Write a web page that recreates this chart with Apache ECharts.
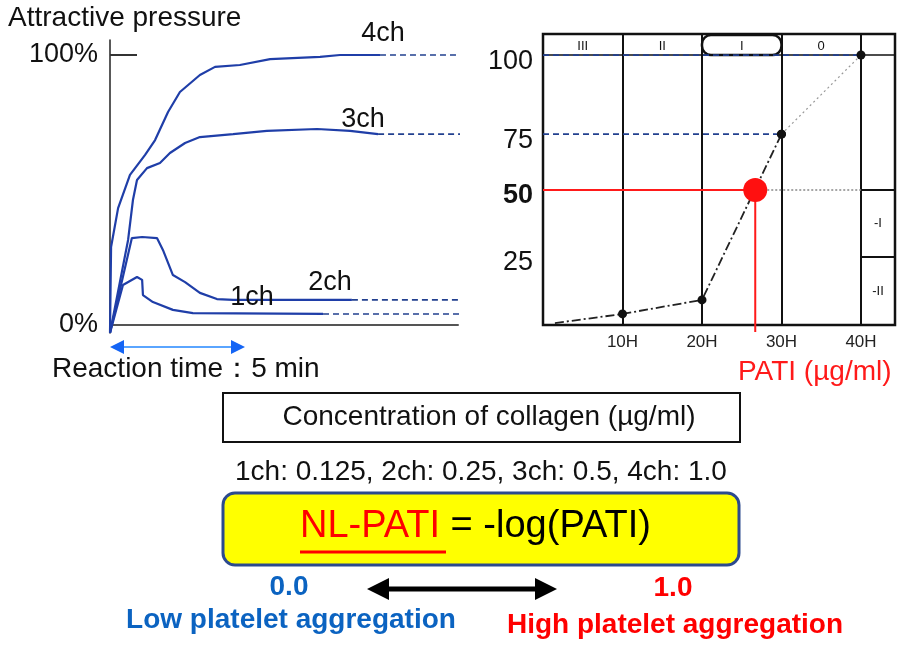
<!DOCTYPE html>
<html><head><meta charset="utf-8">
<script src="https://cdn.jsdelivr.net/npm/echarts@6/dist/echarts.min.js"></script>
<style>html,body{margin:0;padding:0;background:#fff}#c{width:902px;height:647px}</style>
</head><body><div id="c"></div>
<script>
// ---------- data ----------
const curveNames = ['1ch', '2ch', '3ch', '4ch'];
// [time (min), attractive pressure (%)]
const ch1Curve = [[0,-2.9],[0.48,14.8],[1.0,17.8],[1.19,16.7],[1.22,11.1],[1.59,8.5],[2.33,5.6],[3.07,4.4],[7.89,4.1]];
const ch2Curve = [[0,-2.9],[0.81,32.2],[1.19,32.6],[1.74,32.2],[1.96,27.8],[2.33,18.5],[2.78,15.9],[3.33,11.9],[3.96,9.6],[4.56,9.3],[8.96,9.3]];
const ch3Curve = [[0,-2.9],[0.67,31.5],[0.85,46.3],[1.0,53.7],[1.37,58.1],[1.85,60.0],[2.22,63.7],[2.78,67.4],[3.33,69.6],[4.56,70.7],[5.81,71.9],[7.67,72.6],[8.89,71.9],[9.93,70.7]];
const ch4Curve = [[0,-2.9],[0.04,28.9],[0.3,43.3],[0.74,55.6],[1.3,63.0],[1.67,68.5],[2.15,78.9],[2.59,86.3],[3.33,92.6],[3.89,95.6],[4.81,96.3],[5.93,98.5],[7.78,99.3],[8.52,100],[10.0,100]];
const levelLineEnds = [18.6, 21.2, 13.41, 12.96];   // where each dashed level line stops (min scale)
const leftTickValues = [0, 100];
const reactionMinutes = 5;

const rightHours = [1.5, 10, 20, 30, 40];
const rightPct = [0.7, 4.1, 9.3, 70.7, 100];
const rightTickValues = [100, 70.7, 50, 25.2];
const rightTickLabels = ['100', '75', '50', '25'];
const headerEdges = [0, 10, 20, 30, 40];
const headerLabels = ['III', 'II', 'I', '0'];
const highlightCell = [20, 30];
const sideEdges = [50, 25.2, 0];
const sideLabels = ['-I', '-II'];
const patiPoint = [26.7, 50];

const concentrations = ['1ch: 0.125', '2ch: 0.25', '3ch: 0.5', '4ch: 1.0'];

// ---------- layout constants ----------
const FF = '"Liberation Sans", Arial, Helvetica, sans-serif';
const leftXMax = 12.89, leftYMin = -2.96, leftYMax = 105.56;
const rightXMax = 44.28, rightYMax = 107.8;
const curveColor = '#1f3ea8', dashColor = '#22408f';
const curves = [ch1Curve, ch2Curve, ch3Curve, ch4Curve];
const labelOffsets = [[-71, -16], [-22, -17], [-15, -15], [3, -21]];

const chart = echarts.init(document.getElementById('c'), null, {renderer: 'canvas'});
const series = [];

curves.forEach((c, i) => {
  series.push({type: 'line', xAxisIndex: 0, yAxisIndex: 0, data: c, showSymbol: false, symbol: 'none',
    lineStyle: {color: curveColor, width: 2.2}, z: 3, animation: false, clip: false});
  const last = c[c.length - 1];
  series.push({type: 'line', xAxisIndex: 0, yAxisIndex: 0, data: [last, [levelLineEnds[i], last[1]]],
    showSymbol: false, symbol: 'none', clip: false, animation: false,
    lineStyle: {color: dashColor, width: 1.6, type: [6, 4]}, z: 2});
  series.push({type: 'scatter', xAxisIndex: 0, yAxisIndex: 0, data: [last], symbolSize: 0,
    itemStyle: {color: '#111', opacity: 1}, animation: false, silent: true, z: 6,
    label: {show: true, position: 'inside', offset: labelOffsets[i], formatter: curveNames[i],
      color: '#111', opacity: 1, fontSize: 27, fontFamily: FF}});
});

// right chart
const mid = (a, b) => (a + b) / 2;
series.push({type: 'line', xAxisIndex: 1, yAxisIndex: 1, data: [[0, 100], [rightXMax, 100]], symbol: 'none',
  lineStyle: {color: '#111', width: 1.5}, z: 2, animation: false});
series.push({type: 'custom', xAxisIndex: 1, yAxisIndex: 1, data: [highlightCell], z: 3, animation: false,
  renderItem: (params, api) => {
    const p0 = api.coord([api.value(0), rightYMax]);
    const p1 = api.coord([api.value(1), 100]);
    return {type: 'rect', shape: {x: p0[0], y: p0[1] + 1, width: p1[0] - p0[0], height: p1[1] - p0[1] - 1, r: 9},
      style: {fill: '#fff', stroke: '#111', lineWidth: 2.5}};
  }});
sideEdges.slice(0, -1).forEach(v => {
  series.push({type: 'line', xAxisIndex: 1, yAxisIndex: 1, data: [[headerEdges[4], v], [rightXMax, v]], symbol: 'none',
    lineStyle: {color: '#111', width: 2}, z: 2, animation: false});
});
series.push({type: 'scatter', xAxisIndex: 1, yAxisIndex: 1, symbolSize: 0, itemStyle: {color: '#111', opacity: 1},
  data: sideLabels.map((t, i) => [mid(headerEdges[4], rightXMax), mid(sideEdges[i], sideEdges[i + 1])]),
  label: {show: true, position: 'inside', formatter: p => sideLabels[p.dataIndex], fontSize: 13, color: '#111', fontFamily: FF},
  animation: false, silent: true, z: 5});
[3, 4].forEach(k => {
  series.push({type: 'line', xAxisIndex: 1, yAxisIndex: 1, data: [[0, rightPct[k]], [rightHours[k], rightPct[k]]], symbol: 'none',
    lineStyle: {color: dashColor, width: 1.8, type: [6, 4]}, z: 4, animation: false});
});
series.push({type: 'line', xAxisIndex: 1, yAxisIndex: 1, data: rightHours.slice(0, 4).map((h, i) => [h, rightPct[i]]),
  symbol: 'circle', symbolSize: (v, p) => p.dataIndex === 0 ? 0 : 9, itemStyle: {color: '#111'},
  lineStyle: {color: '#222', width: 1.8, type: [9, 3, 2, 3]}, z: 6, animation: false});
series.push({type: 'line', xAxisIndex: 1, yAxisIndex: 1, data: [[rightHours[3], rightPct[3]], [rightHours[4], rightPct[4]]],
  symbol: 'circle', symbolSize: 9, itemStyle: {color: '#111'},
  lineStyle: {color: '#999', width: 1.2, type: [2, 3]}, z: 6, animation: false});
series.push({type: 'line', xAxisIndex: 1, yAxisIndex: 1, data: [patiPoint, [headerEdges[4], patiPoint[1]]], symbol: 'none',
  lineStyle: {color: '#888', width: 1.5, type: [2, 2]}, z: 4, animation: false});
series.push({type: 'line', xAxisIndex: 1, yAxisIndex: 1, data: [[0, patiPoint[1]], patiPoint, [patiPoint[0], -2.6]], symbol: 'none',
  lineStyle: {color: '#ff1a1a', width: 2}, z: 7, clip: false, animation: false});
series.push({type: 'scatter', xAxisIndex: 1, yAxisIndex: 1, data: [patiPoint], symbolSize: 24,
  itemStyle: {color: '#ff1010', opacity: 1}, z: 8, animation: false});

const option = {
  animation: false,
  backgroundColor: '#fff',
  grid: [
    {left: 110, right: 444, top: 40, bottom: 314, show: false},
    {left: 543, right: 7, top: 34, bottom: 322, show: true, borderColor: '#111', borderWidth: 2.5, backgroundColor: '#fff'}
  ],
  xAxis: [
    {gridIndex: 0, type: 'value', min: 0, max: leftXMax, axisLine: {onZero: true, lineStyle: {color: '#555', width: 2}},
      axisTick: {show: false}, axisLabel: {show: false}, splitLine: {show: false}},
    {gridIndex: 1, type: 'value', min: 0, max: rightXMax, interval: 10, axisLine: {show: false}, axisTick: {show: false},
      splitLine: {show: true, lineStyle: {color: '#111', width: 2}},
      axisLabel: {margin: 9, fontSize: 17, color: '#222', fontFamily: FF,
        formatter: v => (v > 0 && v <= 40 && v % 10 === 0) ? v + 'H' : ''}},
    {gridIndex: 1, type: 'value', position: 'top', min: 0, max: rightXMax, z: 10, axisLine: {show: false}, axisTick: {show: false},
      splitLine: {show: false},
      axisLabel: {inside: true, margin: 6, fontSize: 13, color: '#111', fontFamily: FF,
        customValues: headerLabels.map((t, i) => mid(headerEdges[i], headerEdges[i + 1])),
        formatter: v => { const i = headerLabels.findIndex((t, j) => Math.abs(mid(headerEdges[j], headerEdges[j + 1]) - v) < 1e-6); return i >= 0 ? headerLabels[i] : ''; }}}
  ],
  yAxis: [
    {gridIndex: 0, type: 'value', min: leftYMin, max: leftYMax, axisLine: {show: true, onZero: true, lineStyle: {color: '#222', width: 1.5}},
      axisTick: {show: true, inside: true, length: 27, customValues: [100], lineStyle: {color: '#333', width: 2}},
      splitLine: {show: false},
      axisLabel: {customValues: leftTickValues, formatter: '{value}%', fontSize: 27, color: '#111', fontFamily: FF, margin: 12}},
    {gridIndex: 1, type: 'value', min: 0, max: rightYMax, axisLine: {show: false}, axisTick: {show: false}, splitLine: {show: false},
      axisLabel: {customValues: rightTickValues, margin: 10, padding: [12, 0, 0, 0],
        formatter: v => { const i = rightTickValues.findIndex(t => Math.abs(t - v) < 1e-6); const t = i >= 0 ? rightTickLabels[i] : ''; return t === '50' ? '{b|' + t + '}' : '{n|' + t + '}'; },
        rich: {n: {fontSize: 27, color: '#111', fontFamily: FF}, b: {fontSize: 27, color: '#111', fontFamily: FF, fontWeight: 'bold'}}}}
  ],
  series: series
};
chart.setOption(option);

// annotations
const p0 = chart.convertToPixel({xAxisIndex: 0, yAxisIndex: 0}, [0, 0]);
const p5 = chart.convertToPixel({xAxisIndex: 0, yAxisIndex: 0}, [reactionMinutes, 0]);
const ay = 347;
const txt = (x, y, text, opts) => Object.assign({type: 'text', x: x, y: y, z: 20,
  style: Object.assign({text: text, fill: '#111', fontSize: 28, fontFamily: FF, align: 'left', verticalAlign: 'middle'}, opts || {})});
const nlWidth = 146;
chart.setOption({graphic: [
  txt(8, 18, 'Attractive pressure'),
  {type: 'line', z: 20, shape: {x1: p0[0] + 12, y1: ay, x2: p5[0] - 12, y2: ay}, style: {stroke: '#5aa5ff', lineWidth: 2}},
  {type: 'polygon', z: 21, shape: {points: [[p0[0], ay], [p0[0] + 14, ay - 7], [p0[0] + 14, ay + 7]]}, style: {fill: '#1565f5'}},
  {type: 'polygon', z: 21, shape: {points: [[p5[0], ay], [p5[0] - 14, ay - 7], [p5[0] - 14, ay + 7]]}, style: {fill: '#1565f5'}},
  txt(52, 369, 'Reaction time：' + reactionMinutes + ' min'),
  txt(738, 372, 'PATI (µg/ml)', {fill: '#ff1a1a'}),
  {type: 'rect', z: 19, shape: {x: 223, y: 393, width: 517, height: 49}, style: {fill: '#fff', stroke: '#111', lineWidth: 2}},
  txt(489, 417, 'Concentration of collagen (µg/ml)', {align: 'center'}),
  txt(235, 472, concentrations.join(', ')),
  {type: 'rect', z: 19, shape: {x: 223, y: 493, width: 516, height: 72, r: 12}, style: {fill: '#ffff00', stroke: '#2c4a8e', lineWidth: 3}},
  {type: 'text', x: 300, y: 527, z: 20, style: {text: '{r|NL-PATI}{k| = -log(PATI)}', verticalAlign: 'middle', align: 'left',
    rich: {r: {fill: '#ff0000', fontSize: 38, fontFamily: FF}, k: {fill: '#000', fontSize: 38, fontFamily: FF}}}},
  {type: 'line', z: 20, shape: {x1: 300, y1: 552, x2: 300 + nlWidth, y2: 552}, style: {stroke: '#ff0000', lineWidth: 3}},
  txt(289, 587, '0.0', {fill: '#0b63c1', fontWeight: 'bold', align: 'center'}),
  txt(291, 620, 'Low platelet aggregation', {fill: '#0b63c1', fontWeight: 'bold', align: 'center'}),
  {type: 'polygon', z: 20, shape: {points: [[367, 589], [389, 578], [389, 586.5], [535, 586.5], [535, 578], [557, 589], [535, 600], [535, 591.5], [389, 591.5], [389, 600]]}, style: {fill: '#000'}},
  txt(673, 588, '1.0', {fill: '#ff0000', fontWeight: 'bold', align: 'center'}),
  txt(675, 625, 'High platelet aggregation', {fill: '#ff0000', fontWeight: 'bold', align: 'center'})
]});
</script></body></html>
